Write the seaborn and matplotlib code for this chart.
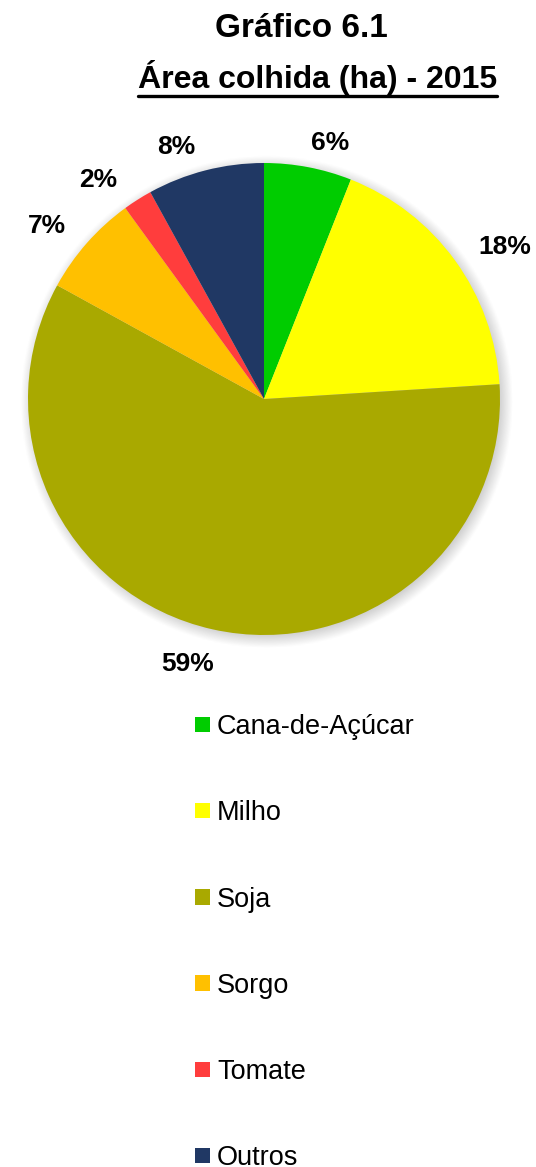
import numpy as np
import matplotlib
matplotlib.use("Agg")
import matplotlib.pyplot as plt
from matplotlib.lines import Line2D
from matplotlib.patches import Rectangle
import seaborn as sns

# Harvested area share by crop, 2015
crops = ["Cana-de-Açúcar", "Milho", "Soja", "Sorgo", "Tomate", "Outros"]
shares = [6, 18, 59, 7, 2, 8]
colors = ["#00CC00", "#FFFF00", "#A9A900", "#FFC000", "#FF3D3D", "#203864"]
title_line1 = "Gráfico 6.1"
title_line2 = "Área colhida (ha) - 2015"

sns.set_theme(style="white")
plt.rcParams["font.family"] = ["Liberation Sans", "DejaVu Sans"]
plt.rcParams["text.color"] = "black"

W, H, DPI = 536, 1167, 100
fig = plt.figure(figsize=(W / DPI, H / DPI), dpi=DPI)
fig.patch.set_facecolor("white")

# pie axes: centre and radius in pixels, with margin for the shadow
cx, cy, R = 264, 399, 236
lim = 1.25
half = R * lim
ax = fig.add_axes([(cx - half) / W, 1 - (cy + half) / H, 2 * half / W, 2 * half / H])
ax.set_xlim(-lim, lim)
ax.set_ylim(-lim, lim)
ax.set_aspect("auto")
ax.axis("off")

# soft shadow behind the pie
n = 400
g = np.linspace(-lim, lim, n)
xx, yy = np.meshgrid(g, g)
rr = np.hypot(xx - 0.012, yy + 0.012)
alpha = np.clip((1.045 - rr) / 0.06, 0, 1) * 0.35
shadow = np.zeros((n, n, 4))
shadow[..., :3] = 0.45
shadow[..., 3] = alpha
ax.imshow(shadow, extent=(-lim, lim, -lim, lim), origin="lower", zorder=0, interpolation="bilinear")

wedges, _ = ax.pie(shares, colors=colors, startangle=90, counterclock=False, radius=1.0,
                   wedgeprops=dict(linewidth=0), center=(0, 0), frame=False)
for w in wedges:
    w.set_zorder(2)
ax.set_xlim(-lim, lim)
ax.set_ylim(-lim, lim)

# percentage labels outside the wedges
label_dist = [1.128, 1.212, 1.160, 1.181, 1.171, 1.139]
label_shift = [3.5, 3.4, 3.5, -2.5, -4.5, -4.7]  # degrees
cum = np.cumsum([0] + shares)
for i, s in enumerate(shares):
    mid = (cum[i] + cum[i + 1]) / 2 / 100 * 360 + label_shift[i]
    ang = np.deg2rad(90 - mid)
    ax.text(label_dist[i] * np.cos(ang), label_dist[i] * np.sin(ang) - 0.008, f"{s}%",
            ha="center", va="center", fontsize=19, fontweight="bold", color="black", zorder=3)

# titles
fig.text(301 / W, 1 - 37 / H, title_line1, ha="center", va="baseline", fontsize=24, fontweight="bold")
t2 = fig.text(317.5 / W, 1 - 88 / H, title_line2, ha="center", va="baseline", fontsize=23, fontweight="bold")
fig.canvas.draw()
bb = t2.get_window_extent(fig.canvas.get_renderer())
uy = 1 - 96 / H
fig.add_artist(Line2D([bb.x0 / W, bb.x1 / W], [uy, uy], color="black", lw=2.4,
                      transform=fig.transFigure))

# legend
handles = [Rectangle((0, 0), 1, 1, facecolor=c, edgecolor="none") for c in colors]
leg = fig.legend(handles, crops, loc="upper left", bbox_to_anchor=(195 / W, 1 - 714 / H),
                 frameon=False, fontsize=19.5, handlelength=0.55, handleheight=0.5,
                 handletextpad=0.26, labelspacing=2.225, borderaxespad=0, borderpad=0)
for t in leg.get_texts():
    t.set_color("black")

fig.savefig("out.png", dpi=DPI, facecolor="white")
